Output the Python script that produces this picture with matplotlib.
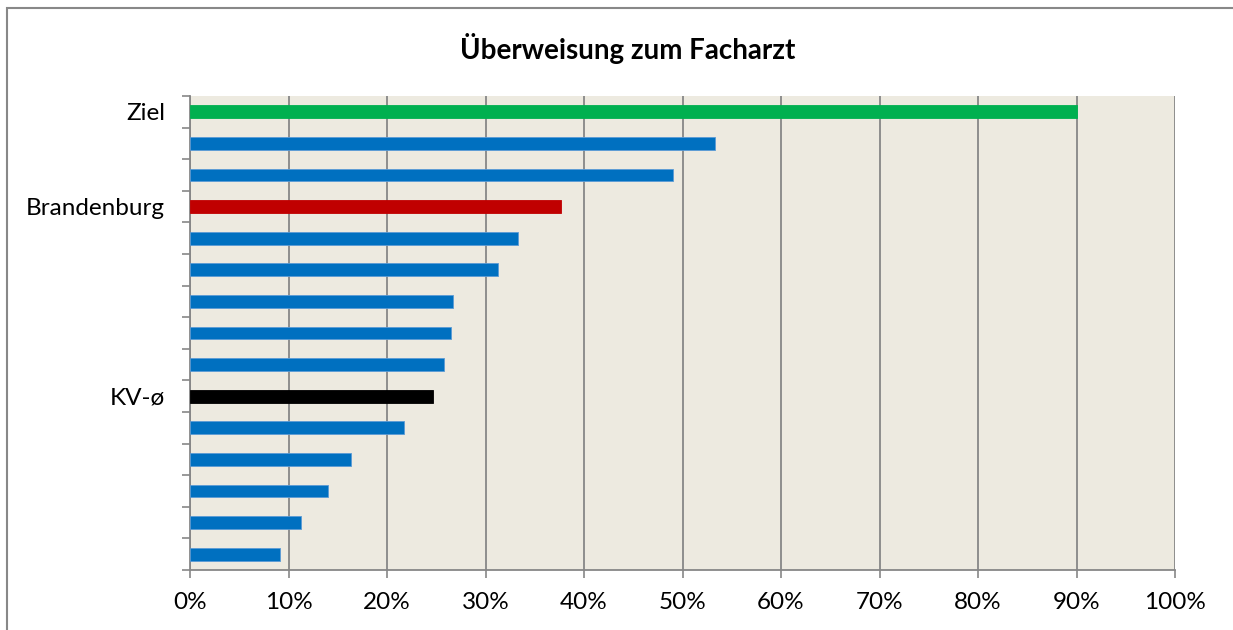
import matplotlib
matplotlib.use("Agg")
import matplotlib.pyplot as plt
from matplotlib.patches import Rectangle
from matplotlib.ticker import FixedLocator, NullFormatter

# Data (top to bottom)
labels = ["Ziel", "", "", "Brandenburg", "", "", "", "", "", "KV-ø", "", "", "", "", ""]
values = [90.0, 53.3, 49.0, 37.7, 33.3, 31.3, 26.7, 26.5, 25.8, 24.7, 21.7, 16.3, 14.0, 11.3, 9.1]
colors = ["#00B050", "#0070C0", "#0070C0", "#C00000", "#0070C0", "#0070C0", "#0070C0",
          "#0070C0", "#0070C0", "#000000", "#0070C0", "#0070C0", "#0070C0", "#0070C0", "#0070C0"]
xticks = [0, 10, 20, 30, 40, 50, 60, 70, 80, 90, 100]
title = "Überweisung zum Facharzt"

plt.rcParams['font.family'] = ['Lato', 'DejaVu Sans']

fig = plt.figure(figsize=(12.33, 6.30), dpi=100)
ax = fig.add_axes([190/1233, 1-570/630, (1175-190)/1233, (570-96)/630])
ax.set_facecolor("#EDEAE0")

n = len(values)
ypos = list(range(n))
ax.barh(ypos, values, height=0.4, color=colors, zorder=3,
        edgecolor=[c if c != "#0070C0" else "#5B9BD5" for c in colors], linewidth=0.6)
ax.set_ylim(n - 0.5, -0.5)
ax.set_xlim(0, 100)

ax.set_yticks(ypos)
ax.set_yticklabels(labels, fontsize=17.5)
ax.tick_params(axis='y', which='major', length=0, pad=18)
ax.yaxis.set_minor_locator(FixedLocator([i - 0.5 for i in range(n + 1)]))
ax.yaxis.set_minor_formatter(NullFormatter())
ax.tick_params(axis='y', which='minor', length=6, color="#878787", width=1.2)

ax.set_xticks(xticks)
ax.set_xticklabels([f"{t}%" for t in xticks], fontsize=17.5)
ax.tick_params(axis='x', length=6, color="#878787", width=1.2, pad=10)

ax.grid(axis='x', color="#878787", linewidth=1.3, zorder=1)
for s in ["top", "right"]:
    ax.spines[s].set_visible(False)
for s in ["left", "bottom"]:
    ax.spines[s].set_color("#878787")
    ax.spines[s].set_linewidth(1.3)

fig.text(0.5 * (455 + 800) / 1233, 1 - 48/630, title, fontsize=20, fontweight='bold',
         ha='center', va='center')

# outer chart border
fig.patches.append(Rectangle((7/1233, -0.1), 1.2, 1 - 8/630 + 0.1, transform=fig.transFigure,
                             fill=False, edgecolor="#888888", linewidth=1.5))

fig.savefig("out.png", dpi=100)
